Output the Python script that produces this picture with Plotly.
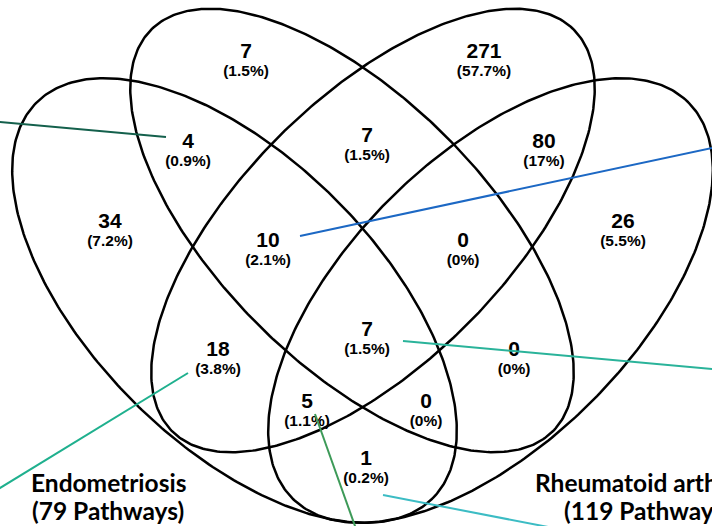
import numpy as np
import plotly.graph_objects as go

# ---------------- data ----------------
region_counts = [7, 271, 4, 7, 80, 34, 10, 0, 26, 18, 7, 0, 5, 0, 1]
set_names = ["Endometriosis", "Rheumatoid arthritis"]
set_pathways = [79, 119]

# ---------------- layout / geometry (pixel space) ----------------
W, H = 712, 526
# label positions: (x, y of count)
label_pos = [(246, 53), (484, 53), (188, 143), (367, 137), (544, 143),
             (110, 223), (268, 242), (463, 242), (623, 223), (218, 351),
             (367, 331), (514, 351), (307, 403), (426, 403), (366, 460)]
pct_dy = 19
# ellipses: cx, cy, a, b, angle(deg, y-down)
ellipses = [(234.5, 300.5, 280, 143, 45),
            (352.0, 230.5, 284, 133, 45),
            (373.0, 230.5, 284, 133, -45),
            (490.5, 300.5, 280, 143, -45)]
leaders = [((166, 137), (-40, 118.4), "#14604c"),
           ((300, 236), (760, 137.7), "#1c68c4"),
           ((403, 341), (760, 373.3), "#2ab39a"),
           ((188, 373), (-40, 512.5), "#1fb08e"),
           ((315, 414), (362, 545.6), "#3d9a58"),
           ((383, 495), (720, 560.3), "#3cbcc4")]
# (x, anchor) for the two set labels; y of first line
set_label_x = [(108, "center", 108, "center"), (533, "left", 562, "left")]
set_label_y = 482

total = sum(region_counts)


def fmt_pct(v):
    p = round(100.0 * v / total, 1)
    s = f"{p:.1f}"
    if s.endswith(".0"):
        s = s[:-2]
    return f"({s}%)"


fig = go.Figure()

t = np.linspace(0, 2 * np.pi, 400)
for cx, cy, a, b, ang in ellipses:
    th = np.radians(ang)
    xs = cx + a * np.cos(t) * np.cos(th) - b * np.sin(t) * np.sin(th)
    ys = cy + a * np.cos(t) * np.sin(th) + b * np.sin(t) * np.cos(th)
    fig.add_trace(go.Scatter(x=xs, y=ys, mode="lines",
                             line=dict(color="black", width=2.5),
                             hoverinfo="skip", showlegend=False))

# counts
fig.add_trace(go.Scatter(
    x=[p[0] for p in label_pos], y=[p[1] for p in label_pos],
    mode="text", text=[f"<b>{c}</b>" for c in region_counts],
    textposition="middle center",
    textfont=dict(family="Liberation Sans, Arial", size=21, color="black"),
    hoverinfo="skip", showlegend=False))
# percentages
fig.add_trace(go.Scatter(
    x=[p[0] for p in label_pos], y=[p[1] + pct_dy for p in label_pos],
    mode="text", text=[f"<b>{fmt_pct(c)}</b>" for c in region_counts],
    textposition="middle center",
    textfont=dict(family="Liberation Sans, Arial", size=15.5, color="black"),
    hoverinfo="skip", showlegend=False))

for (x0, y0), (x1, y1), col in leaders:
    fig.add_trace(go.Scatter(x=[x0, x1], y=[y0, y1], mode="lines",
                             line=dict(color=col, width=2),
                             hoverinfo="skip", showlegend=False))

for (x1, a1, x2, a2), name, n in zip(set_label_x, set_names, set_pathways):
    fig.add_annotation(x=x1, y=set_label_y, xref="x", yref="y", showarrow=False,
                       text=f"<b>{name}</b>", xanchor=a1, yanchor="middle",
                       font=dict(family="Lato", size=24.5, color="black"))
    fig.add_annotation(x=x2, y=set_label_y + 28, xref="x", yref="y", showarrow=False,
                       text=f"<b>({n} Pathways)</b>", xanchor=a2, yanchor="middle",
                       font=dict(family="Lato", size=24.5, color="black"))

fig.update_layout(
    width=W, height=H, autosize=False,
    margin=dict(l=0, r=0, t=0, b=0, pad=0),
    paper_bgcolor="white", plot_bgcolor="white",
    xaxis=dict(range=[0, W], visible=False, fixedrange=True),
    yaxis=dict(range=[H, 0], visible=False, fixedrange=True),
)

fig.write_html("out.html", config={"displayModeBar": False},
               post_script="document.body.style.margin='0';")
